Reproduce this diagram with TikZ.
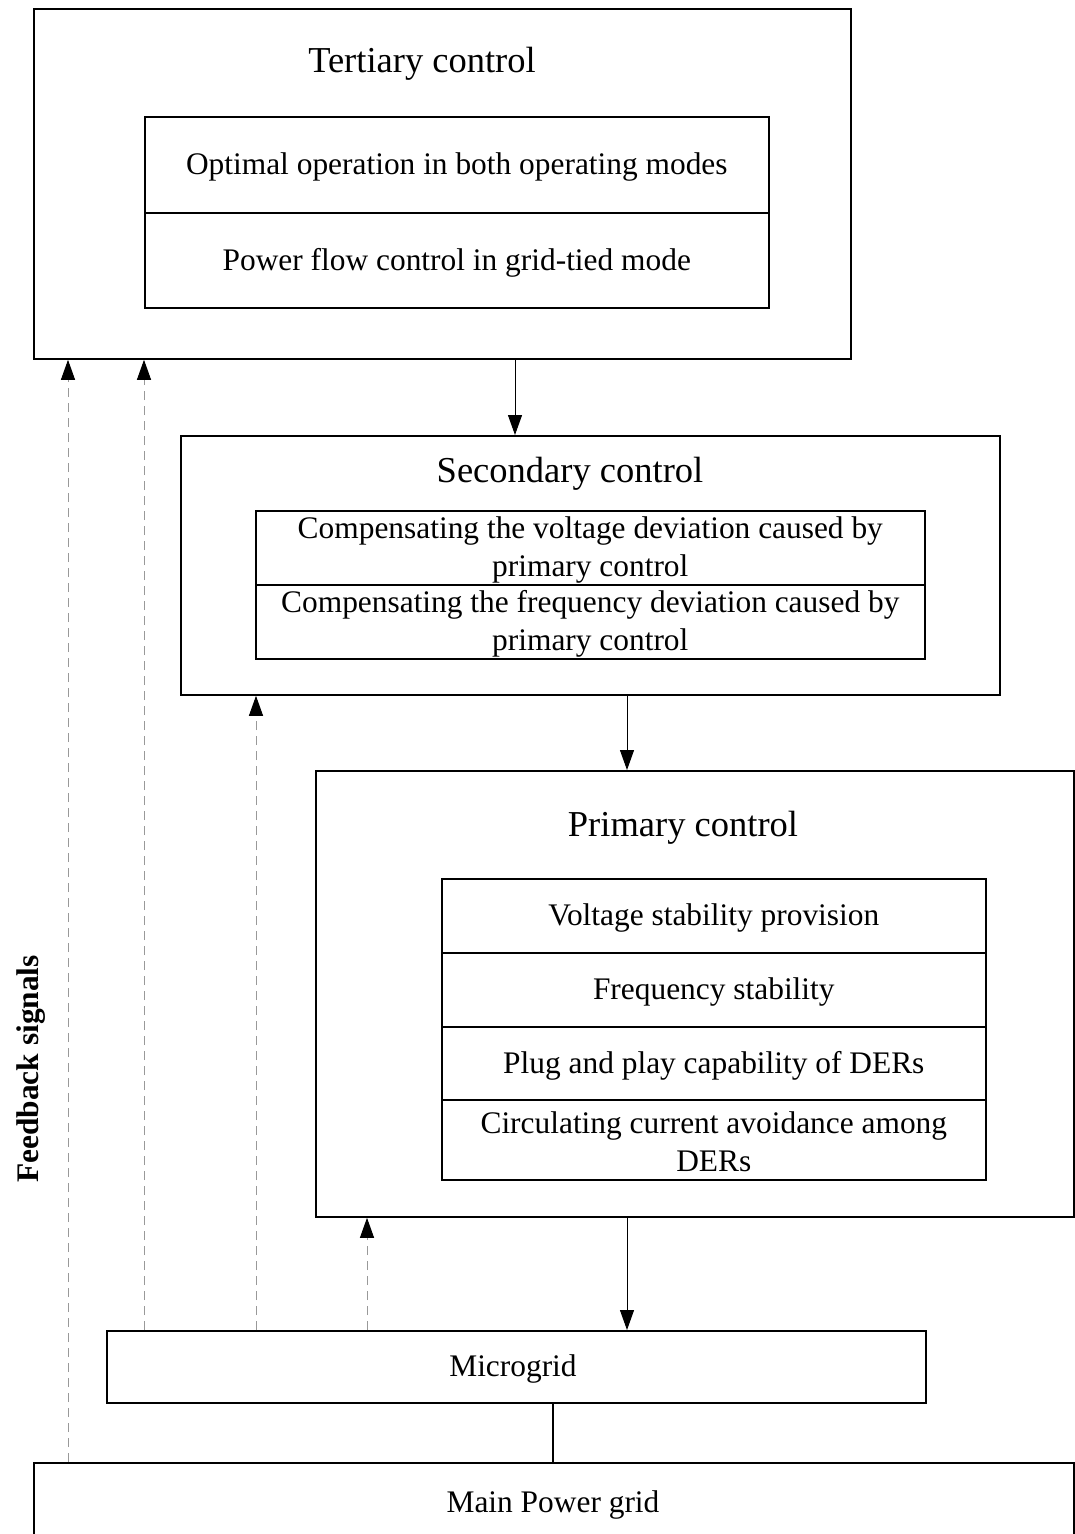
\documentclass[tikz,border=0pt]{standalone}
\usepackage{fontspec}
\setmainfont{Liberation Serif}
\usetikzlibrary{arrows.meta}
\begin{document}
\begin{tikzpicture}[x=1pt,y=-1pt,
  outer/.style={draw, line width=1.8pt, anchor=north west, inner sep=0pt},
  row/.style={draw, line width=1.6pt, anchor=north west, inner sep=0pt, align=center,
    font=\fontsize{31.4}{37.5}\selectfont},
  rowone/.style={row, text height=24pt, text depth=4.3pt},
  rowtwo/.style={row, text height=61.5pt, text depth=4.3pt},
  ttl/.style={font=\fontsize{36.5}{42}\selectfont, inner sep=0pt},
  body/.style={font=\fontsize{31.4}{37.5}\selectfont, inner sep=0pt},
  arr/.style={line width=1pt, -{Triangle[width=14pt,length=20pt]}},
  fb/.style={line width=1pt, draw=black!40, dash pattern=on 9pt off 6pt,
    -{Triangle[width=14pt,length=20pt,color=black]}}]
\useasboundingbox[fill=white] (0,0) rectangle (1074,1534);

% helper x positions
\coordinate (xA) at (68,0);
\coordinate (xB) at (144,0);
\coordinate (xC) at (256,0);
\coordinate (xD) at (367,0);
\coordinate (xE) at (515,0);
\coordinate (xF) at (627,0);
\coordinate (xG) at (553,0);

% Tertiary
\node[outer, minimum width=817, minimum height=350] (tert) at (33,8) {};
\node[ttl] (tertt) at (422,64) {Tertiary control};
\node[rowone, minimum width=624, minimum height=96] (t1) at (144,116) {Optimal operation in both operating modes};
\node[rowone, minimum width=624, minimum height=95] (t2) at (144,212) {Power flow control in grid-tied mode};

% Secondary
\node[outer, minimum width=819, minimum height=259] (sec) at (180,435) {};
\node[ttl] (sect) at (570,474) {Secondary control};
\node[rowtwo, minimum width=669, minimum height=74] (s1) at (255,510) {Compensating the voltage deviation caused by\\primary control};
\node[rowtwo, minimum width=669, minimum height=74] (s2) at (255,584) {Compensating the frequency deviation caused by\\primary control};

% Primary
\node[outer, minimum width=758, minimum height=446] (prim) at (315,770) {};
\node[ttl] (primt) at (683,828) {Primary control};
\node[rowone, minimum width=544, minimum height=74] (p1) at (441,878) {Voltage stability provision};
\node[rowone, minimum width=544, minimum height=74] (p2) at (441,952) {Frequency stability};
\node[rowone, minimum width=544, minimum height=73] (p3) at (441,1026) {Plug and play capability of DERs};
\node[rowtwo, text height=67.5pt, minimum width=544, minimum height=80] (p4) at (441,1099) {Circulating current avoidance among\\DERs};

% Microgrid and main grid
\node[outer, minimum width=819, minimum height=72] (micro) at (106,1330) {};
\node[body] (microt) at (513,1369) {Microgrid};
\node[outer, minimum width=1040, minimum height=80] (main) at (33,1462) {};
\node[body] (maint) at (553,1505) {Main Power grid};

% Feedback label
\node[body, font=\bfseries\fontsize{31.4}{37.5}\selectfont, rotate=90] (fbl) at (31,1069) {Feedback signals};

% control arrows
\draw[arr] (tert.south -| xE) -- (sec.north -| xE);
\draw[arr] (sec.south -| xF) -- (prim.north -| xF);
\draw[arr] (prim.south -| xF) -- (micro.north -| xF);
\draw[line width=1.8pt] (micro.south -| xG) -- (main.north -| xG);

% feedback arrows
\draw[fb] (main.north -| xA) -- (tert.south -| xA);
\draw[fb] (micro.north -| xB) -- (tert.south -| xB);
\draw[fb] (micro.north -| xC) -- (sec.south -| xC);
\draw[fb] (micro.north -| xD) -- (prim.south -| xD);
\end{tikzpicture}
\end{document}
